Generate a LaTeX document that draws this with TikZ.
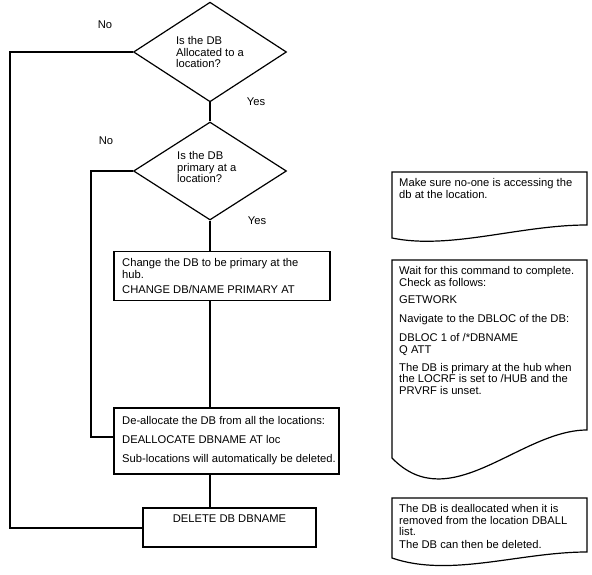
\documentclass[tikz,border=0pt]{standalone}
\usepackage{fontspec}
\setmainfont{Liberation Sans}
\usetikzlibrary{shapes.geometric}
\begin{document}
\begin{tikzpicture}[x=1pt,y=-1pt,
  txt/.style={font=\fontsize{11.2}{11.8}\selectfont},
  shapeline/.style={draw=black,line width=1.2pt},
  conn/.style={draw=black,line width=2pt},
  decision/.style={shape=diamond,shapeline,minimum width=153pt,minimum height=98pt,inner sep=0pt,align=left,txt},
  stepbox/.style={shape=rectangle,shapeline,inner sep=0pt,txt},
  doctext/.style={anchor=north west,inner sep=0pt,align=left,txt},
  lbl/.style={inner sep=0pt,txt}
]
\useasboundingbox (0,0) rectangle (592,575);

% decisions
\node[decision] (d1) at (210,52) {Is the DB\\Allocated to a\\location?};
\node[decision] (d2) at (210,171) {};
\node[doctext] (d2t) at (177,151) {Is the DB\\primary at a\\location?};

% process boxes
\node[stepbox,minimum width=216pt,minimum height=49pt] (b1) at (222,276) {};
\node[doctext] (b1t) at (122,258) {Change the DB to be primary at the\\hub.\\[4pt]CHANGE DB/NAME PRIMARY AT};

\node[stepbox,minimum width=225pt,minimum height=66pt] (b2) at (226.5,441) {};
\node[doctext] (b2t) at (122,416) {De-allocate the DB from all the locations:\\[7.5pt]DEALLOCATE DBNAME AT loc\\[7.5pt]Sub-locations will automatically be deleted.};

\node[stepbox,minimum width=173pt,minimum height=39pt] (del) at (229.5,527.5) {};
\node[anchor=north,inner sep=0pt,txt] (delt) at (229.5,514.5) {DELETE DB DBNAME};

% labels
\node[lbl] (no1) at (105,25) {No};
\node[lbl] (yes1) at (256,102) {Yes};
\node[lbl] (no2) at (106,141) {No};
\node[lbl] (yes2) at (257,221) {Yes};

% connectors
\coordinate (l1) at (10,52);
\coordinate (l2) at (91,171);
\coordinate (l2b) at (91,437);
\draw[conn] (d1.south) -- (d2.north);
\draw[conn] (d2.south) -- (b1.north -| d2.south);
\draw[conn] (b1.south -| d2.south) -- (b2.north -| d2.south);
\draw[conn] (b2.south -| d2.south) -- (del.north -| d2.south);
\draw[conn] (d1.west) -- (l1) |- (del.west);
\draw[conn] (d2.west) -- (l2) -- (l2b) -- (b2.west |- l2b);

% documents
\draw[shapeline] (392,172) coordinate (doc1) -- (587,172) -- (587,225)
  .. controls (520,225) and (450,250) .. (392,238) -- cycle;
\node[doctext] (doc1t) at (399,178) {Make sure no-one is accessing the\\db at the location.};

\draw[shapeline] (392,260) coordinate (doc2) -- (587,260) -- (587,430)
  .. controls (520,430) and (450,518) .. (392,458) -- cycle;
\node[doctext] (doc2t) at (399,266) {Wait for this command to complete.\\Check as follows:\\[6pt]GETWORK\\[6.5pt]Navigate to the DBLOC of the DB:\\[7.5pt]DBLOC 1 of /*DBNAME\\Q ATT\\[6pt]The DB is primary at the hub when\\the LOCRF is set to /HUB and the\\PRVRF is unset.};

\draw[shapeline] (392,498) coordinate (doc3) -- (587,498) -- (587,552)
  .. controls (520,552) and (450,578) .. (392,558) -- cycle;
\node[doctext] (doc3t) at (399,504) {The DB is deallocated when it is\\removed from the location DBALL\\list.\\[0.5pt]The DB can then be deleted.};
\end{tikzpicture}
\end{document}
